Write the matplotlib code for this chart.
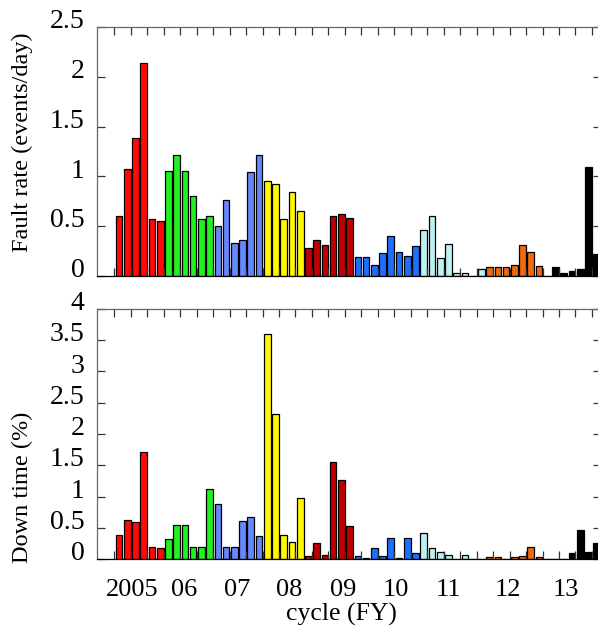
import numpy as np
import matplotlib
matplotlib.use('Agg')
import matplotlib.pyplot as plt
import matplotlib.transforms as mtransforms

plt.rcParams['font.family'] = ['Liberation Serif', 'DejaVu Serif']

# fault rate (events/day) per run period
fault_rate = [0.60, 1.07, 1.39, 2.14, 0.575, 0.55,
              1.05, 1.21, 1.05, 0.80, 0.575, 0.60,
              0.50, 0.76, 0.33, 0.365, 1.04, 1.21,
              0.95, 0.926, 0.575, 0.846, 0.652,
              0.278, 0.365, 0.314, 0.602, 0.625, 0.585,
              0.187, 0.187, 0.11, 0.227, 0.40, 0.237, 0.197, 0.30,
              0.46, 0.60, 0.177, 0.318, 0.033, 0.033, 0.0, 0.074,
              0.094, 0.094, 0.094, 0.11, 0.314, 0.237, 0.10, 0.0,
              0.094, 0.027, 0.054, 0.067, 1.09, 0.22]

# down time (%)
down_time = [0.384, 0.619, 0.587, 1.712, 0.197, 0.171,
             0.325, 0.539, 0.539, 0.197, 0.197, 1.125,
             0.88, 0.197, 0.197, 0.608, 0.667, 0.363,
             3.60, 2.315, 0.384, 0.277, 0.981,
             0.043, 0.256, 0.059, 1.557, 1.264, 0.523,
             0.043, 0.02, 0.171, 0.043, 0.336, 0.02, 0.336, 0.09,
             0.41, 0.171, 0.117, 0.059, 0.0, 0.059, 0.0, 0.0,
             0.027, 0.027, 0.0, 0.027, 0.043, 0.197, 0.027, 0.0,
             0.0, 0.0, 0.10, 0.464, 0.117, 0.256]

# fiscal year each bar belongs to
bar_fy = (['05'] * 6 + ['06'] * 6 + ['07'] * 6 + ['08'] * 5 + ['09'] * 6
          + ['10'] * 8 + ['11'] * 8 + ['12'] * 8 + ['13'] * 6)

fy_labels = ['2005', '06', '07', '08', '09', '10', '11', '12', '13']
fy_label_x = [2.12, 8.52, 14.96, 21.27, 27.74, 34.18, 40.52, 47.8, 54.88]

fy_colors = {'05': '#ff0a0a', '06': '#22f022', '07': '#6688ff',
             '08': '#fff700', '09': '#c00000', '10': '#1e6eff',
             '11': '#bdf2f2', '12': '#f06a10', '13': '#000000'}

colors = [fy_colors[f] for f in bar_fy]
x = np.arange(len(fault_rate)) + 0.17

fig = plt.figure(figsize=(5.98, 6.25), dpi=100)
ax1 = fig.add_axes([97 / 598, 1 - 276 / 625, 504 / 598, 249 / 625])
ax2 = fig.add_axes([97 / 598, 1 - 559 / 625, 504 / 598, 250 / 625])

label_shift = mtransforms.ScaledTranslation(0, 6 / 72, fig.dpi_scale_trans)

for ax, vals, ymax in [(ax1, fault_rate, 2.5), (ax2, down_time, 4)]:
    ax.bar(x, vals, width=0.81, align='edge', color=colors,
           edgecolor='black', linewidth=0.9)
    ax.set_xlim(-2.1, 59.1)
    ax.set_ylim(0, ymax)
    ax.set_xticks(np.arange(0, 59, 2))
    ax.set_xticklabels([])
    yt = np.arange(0, ymax + 0.01, 0.5)
    ax.set_yticks(yt)
    ax.set_yticklabels(['%g' % v for v in yt])
    ax.tick_params(direction='in', length=6, width=0.9, top=True, right=True,
                   labelsize=20, pad=9, color='#333333')
    for lab in ax.get_yticklabels():
        lab.set_transform(lab.get_transform() + label_shift)
    for s in ax.spines.values():
        s.set_color('#666666')
        s.set_linewidth(0.9)
    ax.spines['bottom'].set_color('black')

for lab, xp in zip(fy_labels, fy_label_x):
    ax2.text(xp, -0.587, lab, ha='center', va='baseline', fontsize=19)

fig.text(341.7 / 598, 1 - 621 / 625, 'cycle (FY)', ha='center', va='baseline',
         fontsize=18.5)
fig.text(22 / 598, 1 - 142 / 625, 'Fault rate (events/day)', rotation=90,
         ha='center', va='center', fontsize=17.5)
fig.text(22 / 598, 1 - 487 / 625, 'Down time (%)', rotation=90,
         ha='center', va='center', fontsize=17.5)

fig.savefig('out.png', dpi=100)
